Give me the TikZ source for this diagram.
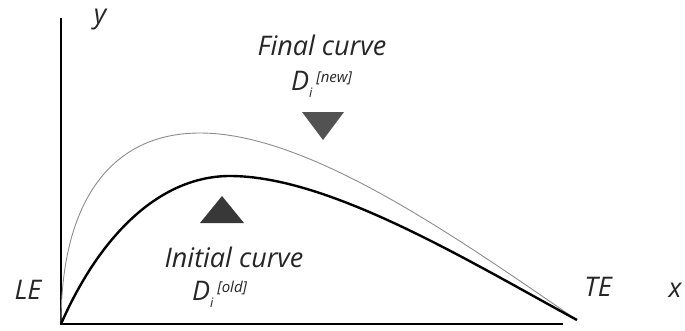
\documentclass[tikz,border=0pt]{standalone}
\usepackage{fontspec}
\setmainfont{Open Sans}
\usetikzlibrary{calc}

\newcommand{\lowi}{\raisebox{-7pt}{\fontsize{13}{13}\selectfont i}}
\newcommand{\tagup}[1]{\raisebox{8pt}{\fontsize{15}{15}\selectfont\ [#1]}}

\begin{document}
\begin{tikzpicture}[x=1pt, y=-1pt,
  lbl/.style={font=\fontsize{27}{30}\selectfont\itshape, inner sep=0pt, text=black!85},
  axis/.style={line width=1.6pt},
  newc/.style={draw=black!45, line width=0.9pt},
  oldc/.style={line width=2.4pt},
  tri/.style={fill=black!78}
]
\useasboundingbox (0,0) rectangle (685,330);

% axes
\coordinate (O) at (61,324);
\coordinate (ytop) at (61,18);
\coordinate (xend) at (563,324);
\coordinate (te) at (577,320);
\draw[axis] (ytop) -- (O) -- (xend);

% curves
\draw[newc] (O) .. controls (61,200) and (112,133) .. (200,133)
  .. controls (310,133) and (460,240) .. (te);
\draw[oldc] (O) .. controls (100,235) and (160,176) .. (230,176)
  .. controls (330,176) and (470,262) .. (te);

% markers
\coordinate (dn) at (323,126);
\coordinate (up) at (222,210);
\fill[tri, black!68] ($(dn)+(-21,-14)$) -- ($(dn)+(21,-14)$) -- ($(dn)+(0,14)$) -- cycle;
\fill[tri] ($(up)+(-22,13)$) -- ($(up)+(22,13)$) -- ($(up)+(0,-14)$) -- cycle;

% labels
\node[lbl] (ylab) at (100,20) {y};
\node[lbl] (xlab) at (675,290) {x};
\node[lbl] (le) at (28,290) {LE};
\node[lbl] (tel) at (598,287) {TE};
\node[lbl] (fin) at (322,45) {Final curve};
\node[lbl, anchor=west] (dnew) at (291,84) {D\lowi\tagup{new}};
\node[lbl] (ini) at (234,257) {Initial curve};
\node[lbl, anchor=west] (dold) at (192,294) {D\lowi\tagup{old}};
\end{tikzpicture}
\end{document}
